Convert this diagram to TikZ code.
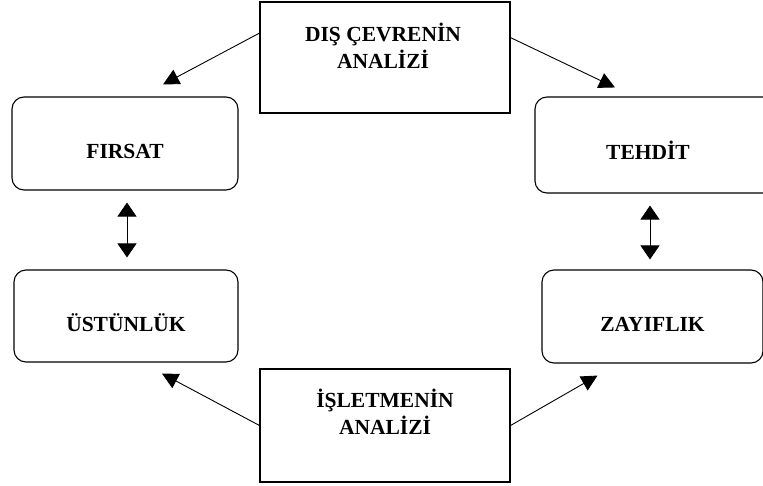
\documentclass[tikz,border=0pt]{standalone}
\usepackage{fontspec}
\setmainfont{Liberation Serif}
\usepackage{tikz}
\usetikzlibrary{arrows.meta,calc}

\begin{document}
\begin{tikzpicture}[x=1pt, y=-1pt,
    font = \fontsize{21.5}{27}\selectfont\bfseries,
    yonbox/.style = {draw, line width=1.1pt, rounded corners=12pt,
        text height=30pt, text depth=0pt},
    analizbox/.style = {draw, line width=1.1pt},
    baslik/.style = {align=center, inner sep=0pt},
    ok/.style = {line width=0.9pt, -{Triangle[length=16pt,width=16pt]}},
    ciftok/.style = {line width=0.9pt, {Triangle[length=14pt,width=19pt]}-{Triangle[length=14pt,width=19pt]}}]
        \useasboundingbox (0,0) rectangle (763,486);

        % analiz kutulari
        \node[analizbox, minimum width=250pt, minimum height=111pt] (dis) at (385,57.5) {};
        \node[baslik] (distext) at ([xshift=-2pt,yshift=12pt]dis.center) {DIŞ ÇEVRENİN\\ANALİZİ};

        \node[analizbox, minimum width=250pt, minimum height=113pt] (isl) at (385,425.5) {};
        \node[baslik] (isltext) at ([yshift=14pt]isl.center) {İŞLETMENİN\\ANALİZİ};

        % yon kutulari
        \node[yonbox, minimum width=226pt, minimum height=93pt] (firsat) at (125,143.5) {FIRSAT};
        \node[yonbox, minimum width=224pt, minimum height=92pt] (ustun) at (126,316) {ÜSTÜNLÜK};
        \node[yonbox, minimum width=240pt, minimum height=96pt,
            label={[yshift=-5pt, xshift=-7pt]center:TEHDİT}] (tehdit) at (655,145) {};
        \node[yonbox, minimum width=221pt, minimum height=93pt] (zayif) at (652.5,316.5) {ZAYIFLIK};

        % ok uclari
        \coordinate (firsatuc) at ([xshift=38pt,yshift=12pt]firsat.north);
        \coordinate (tehdituc) at ([xshift=-40pt,yshift=9pt]tehdit.north);
        \coordinate (ustunuc) at ([xshift=36pt,yshift=-11pt]ustun.south);
        \coordinate (zayifuc) at ([xshift=-55pt,yshift=-12pt]zayif.south);

        \draw[ok] (dis.169) -- (firsatuc);
        \draw[ok] (dis.9) -- (tehdituc);
        \draw[ok] (isl.west) -- (ustunuc);
        \draw[ok] (isl.east) -- (zayifuc);

        \draw[ciftok, shorten <=12pt, shorten >=12pt]
        ([xshift=2pt]firsat.south) -- ([xshift=1pt]ustun.north);
        \draw[ciftok, shorten <=12pt, shorten >=10pt]
        ([xshift=-5pt]tehdit.south) -- ([xshift=-2.5pt]zayif.north);
    \end{tikzpicture}
\end{document}
